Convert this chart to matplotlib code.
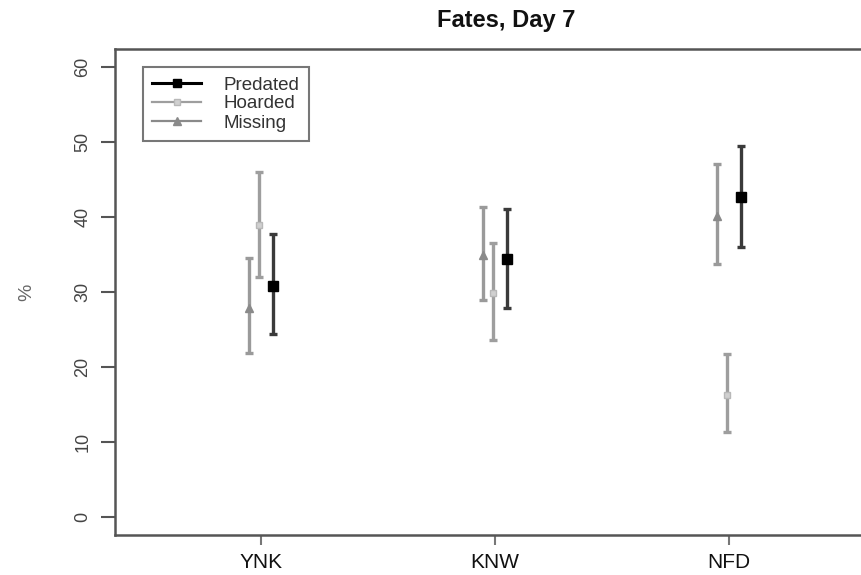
import matplotlib.pyplot as plt
from matplotlib.lines import Line2D
import numpy as np

# values (percent, mean with lower/upper bounds)
groups = ['YNK', 'KNW', 'NFD']

predated_mean = [30.8, 34.4, 42.7]
predated_lo = [24.4, 27.9, 36.0]
predated_hi = [37.7, 41.1, 49.5]

hoarded_mean = [38.9, 29.9, 16.3]
hoarded_lo = [32.0, 23.6, 11.4]
hoarded_hi = [46.0, 36.5, 21.7]

missing_mean = [27.9, 34.9, 40.1]
missing_lo = [21.9, 28.9, 33.8]
missing_hi = [34.5, 41.3, 47.1]

yticks = [0, 10, 20, 30, 40, 50, 60]

plt.rcParams['font.family'] = ['Liberation Sans', 'DejaVu Sans']

W, H = 861, 575
fig = plt.figure(figsize=(W / 100, H / 100), dpi=100)
# plot box runs past the right edge of the picture, as in the reference
ax = fig.add_axes([115 / W, (H - 535) / H, (873 - 115) / W, (535 - 49) / H])

x = np.arange(1, len(groups) + 1)


def draw(offset, mean, lo, hi, ecolor, mcolor, marker, ms, mfc):
    mean = np.array(mean)
    err = [mean - np.array(lo), np.array(hi) - mean]
    ax.errorbar(x + offset, mean, yerr=err, fmt='none', ecolor=ecolor,
                elinewidth=2.4, capsize=3.2, capthick=2.4, zorder=2)
    ax.plot(x + offset, mean, linestyle='none', marker=marker, markersize=ms,
            markerfacecolor=mfc, markeredgecolor=mcolor, markeredgewidth=1,
            zorder=3)


draw(-0.05, missing_mean, missing_lo, missing_hi, '#9a9a9a', '#8a8a8a', '^', 6, '#8a8a8a')
draw(-0.008, hoarded_mean, hoarded_lo, hoarded_hi, '#9e9e9e', '#b8b8b8', 's', 4.5, '#d0d0d0')
draw(0.05, predated_mean, predated_lo, predated_hi, '#3a3a3a', '#000000', 's', 6.5, '#000000')

ax.set_xlim(0.376, 3.615)
ax.set_ylim(-2.4, 62.4)
ax.set_xticks(x)
ax.set_xticklabels(groups, fontsize=15, color='#111111')
ax.set_yticks(yticks)
ax.set_yticklabels([str(v) for v in yticks], fontsize=13, rotation=90,
                   va='center', color='#444444')
ax.tick_params(axis='y', length=10, width=1.5, color='#555555', pad=7)
ax.tick_params(axis='x', length=7, width=1.5, color='#777777', pad=6)
for s in ax.spines.values():
    s.set_color('#555555')
    s.set_linewidth(1.8)

ax.set_ylabel('%', fontsize=14, color='#666666', labelpad=28)

fig.text(506 / W, 1 - 20 / H, 'Fates, Day 7', ha='center', va='center',
         fontsize=17, fontweight='bold', color='#111111')

handles = [
    Line2D([], [], color='#000000', lw=2.2, marker='s', markersize=6),
    Line2D([], [], color='#9e9e9e', lw=1.6, marker='s', markersize=4,
           markerfacecolor='#d0d0d0', markeredgecolor='#b8b8b8'),
    Line2D([], [], color='#8a8a8a', lw=1.6, marker='^', markersize=6),
]
leg = ax.legend(handles, ['Predated', 'Hoarded', 'Missing'],
                loc='upper left', bbox_to_anchor=((143 - 115) / (873 - 115), 1 - (67 - 49) / (535 - 49)),
                fontsize=13.5, frameon=True, fancybox=False, borderaxespad=0,
                handlelength=2.6, handletextpad=1.2, labelspacing=0.1,
                borderpad=0.5)
leg.get_frame().set_edgecolor('#555555')
leg.get_frame().set_linewidth(1.5)
for t in leg.get_texts():
    t.set_color('#333333')

fig.savefig('out.png', dpi=100)
